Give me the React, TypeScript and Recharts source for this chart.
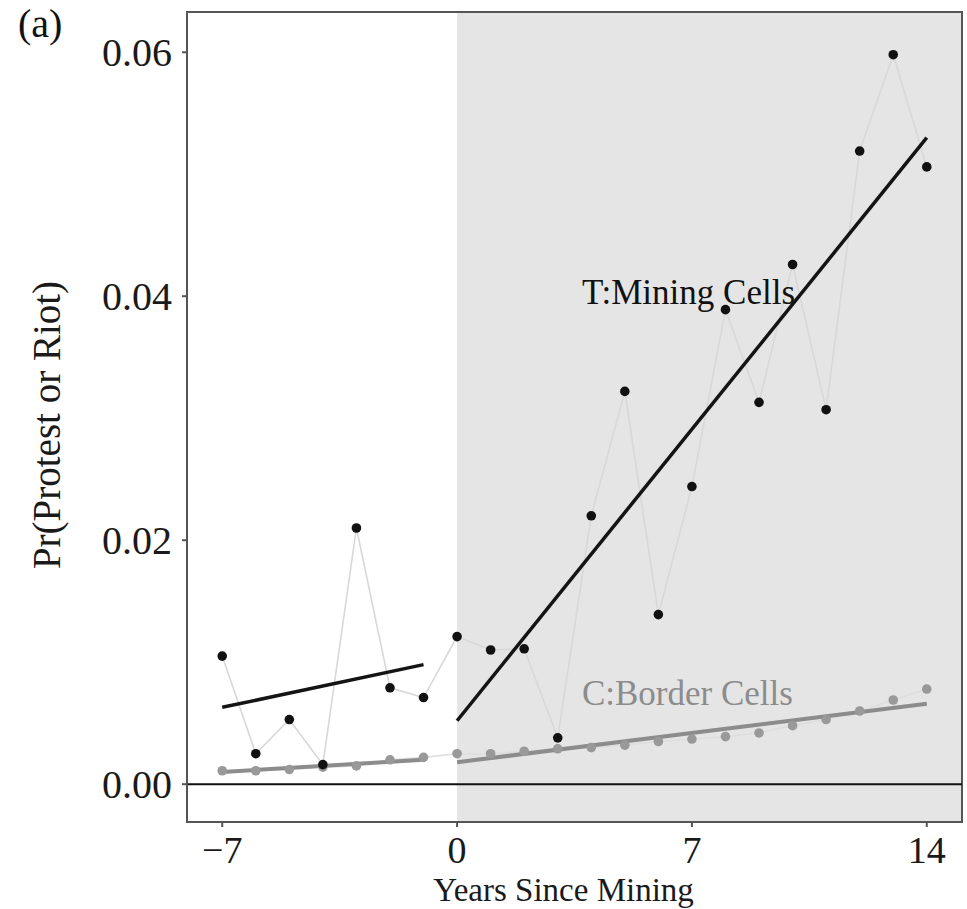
import React from "react";
import {
  ComposedChart,
  Line,
  Scatter,
  XAxis,
  YAxis,
  ReferenceArea,
  ReferenceLine,
  ReferenceDot,
  Label,
} from "recharts";

// years relative to mining onset
const years = [-7, -6, -5, -4, -3, -2, -1, 0, 1, 2, 3, 4, 5, 6, 7, 8, 9, 10, 11, 12, 13, 14];

// T: mining cells, C: border cells
const miningRate = [
  0.0105, 0.0025, 0.0053, 0.0016, 0.021, 0.0079, 0.0071, 0.0121, 0.011, 0.0111, 0.0038,
  0.022, 0.0322, 0.0139, 0.0244, 0.0389, 0.0313, 0.0426, 0.0307, 0.0519, 0.0598, 0.0506,
];
const borderRate = [
  0.0011, 0.0011, 0.0012, 0.0014, 0.0015, 0.002, 0.0022, 0.0025, 0.0025, 0.0027, 0.0029,
  0.003, 0.0032, 0.0035, 0.0037, 0.0039, 0.0042, 0.0048, 0.0053, 0.006, 0.0069, 0.0078,
];

// linear fits, before and after
const miningFitPre = [
  { x: -7, y: 0.0063 },
  { x: -1, y: 0.0098 },
];
const miningFitPost = [
  { x: 0, y: 0.0052 },
  { x: 14, y: 0.053 },
];
const borderFitPre = [
  { x: -7, y: 0.001 },
  { x: -1, y: 0.002 },
];
const borderFitPost = [
  { x: 0, y: 0.0018 },
  { x: 14, y: 0.0066 },
];

const xTicks = [-7, 0, 7, 14];
const yTicks = [0, 0.02, 0.04, 0.06];
const xDomain = [-8.05, 15.05];
const yDomain = [-0.0031, 0.0633];

const mining = years.map((x, i) => ({ x, y: miningRate[i] }));
const border = years.map((x, i) => ({ x, y: borderRate[i] }));

const serif = "'Liberation Serif', 'Times New Roman', serif";

const dotShape = (color: string) => (p: any) =>
  <circle cx={p.cx} cy={p.cy} r={4.8} fill={color} />;

const annot = (text: string, color: string) => (props: any) => {
  const vb = props.viewBox || {};
  return (
    <text x={vb.x} y={vb.y} fill={color} fontSize={35} style={{ fontFamily: serif }}>
      {text}
    </text>
  );
};

export default function App() {
  return (
    <div style={{ position: "absolute", left: 0, top: 0, width: 967, height: 909, background: "#fff" }}>
      <div
        style={{
          position: "absolute",
          left: 18,
          top: 4,
          fontFamily: serif,
          fontSize: 40,
          color: "#111",
          lineHeight: "40px",
        }}
      >
        (a)
      </div>
      <ComposedChart width={967} height={909} margin={{ top: 12, right: 5, bottom: 0, left: 0 }}>
        <XAxis
          type="number"
          dataKey="x"
          domain={xDomain}
          ticks={xTicks}
          allowDataOverflow
          height={87}
          tickSize={5}
          tickMargin={9}
          tickFormatter={(v: number) => (v < 0 ? "\u2212" + Math.abs(v) : String(v))}
          tick={{ fontSize: 38, fill: "#1a1a1a", style: { fontFamily: serif } }}
          axisLine={{ stroke: "#555", strokeWidth: 2 }}
          tickLine={{ stroke: "#555", strokeWidth: 2 }}
        >
          <Label
            content={(p: any) => {
              const vb = p.viewBox;
              return (
                <text
                  x={vb.x + vb.width / 2 - 11}
                  y={vb.y + 79}
                  textAnchor="middle"
                  fontSize={33}
                  fill="#1a1a1a"
                  style={{ fontFamily: serif }}
                >
                  Years Since Mining
                </text>
              );
            }}
          />
        </XAxis>
        <YAxis
          type="number"
          domain={yDomain}
          ticks={yTicks}
          allowDataOverflow
          width={187}
          tickSize={5}
          tickMargin={10}
          tickFormatter={(v: number) => v.toFixed(2)}
          tick={{ fontSize: 40, fill: "#1a1a1a", style: { fontFamily: serif } }}
          axisLine={{ stroke: "#555", strokeWidth: 2 }}
          tickLine={{ stroke: "#555", strokeWidth: 2 }}
        >
          <Label
            content={() => (
              <text
                x={60}
                y={425}
                transform="rotate(-90 60 425)"
                textAnchor="middle"
                fontSize={39}
                fill="#1a1a1a"
                style={{ fontFamily: serif }}
              >
                Pr(Protest or Riot)
              </text>
            )}
          />
        </YAxis>

        <ReferenceArea x1={0} x2={15.05} fill="#e5e5e5" fillOpacity={1} stroke="none" />
        <ReferenceLine y={0} stroke="#111" strokeWidth={2} />

        <Line data={mining} dataKey="y" stroke="#d8d8d8" strokeWidth={1.6} dot={false} isAnimationActive={false} />
        <Line data={border} dataKey="y" stroke="#dedede" strokeWidth={1.6} dot={false} isAnimationActive={false} />

        <Line data={borderFitPre} dataKey="y" stroke="#8c8c8c" strokeWidth={4} dot={false} isAnimationActive={false} />
        <Line data={borderFitPost} dataKey="y" stroke="#8c8c8c" strokeWidth={4} dot={false} isAnimationActive={false} />

        <Scatter data={border} dataKey="y" shape={dotShape("#999999")} isAnimationActive={false} />
        <Scatter data={mining} dataKey="y" shape={dotShape("#111111")} isAnimationActive={false} />

        <Line data={miningFitPre} dataKey="y" stroke="#141414" strokeWidth={3.5} dot={false} isAnimationActive={false} />
        <Line data={miningFitPost} dataKey="y" stroke="#141414" strokeWidth={3.5} dot={false} isAnimationActive={false} />

        <ReferenceDot x={3.72} y={0.0394} r={0} fill="none" stroke="none" label={annot("T:Mining Cells", "#111")} />
        <ReferenceDot x={3.72} y={0.00648} r={0} fill="none" stroke="none" label={annot("C:Border Cells", "#8c8c8c")} />

        <ReferenceArea
          x1={xDomain[0]}
          x2={xDomain[1]}
          y1={yDomain[0]}
          y2={yDomain[1]}
          fill="none"
          stroke="#555"
          strokeWidth={2}
        />
      </ComposedChart>
    </div>
  );
}
